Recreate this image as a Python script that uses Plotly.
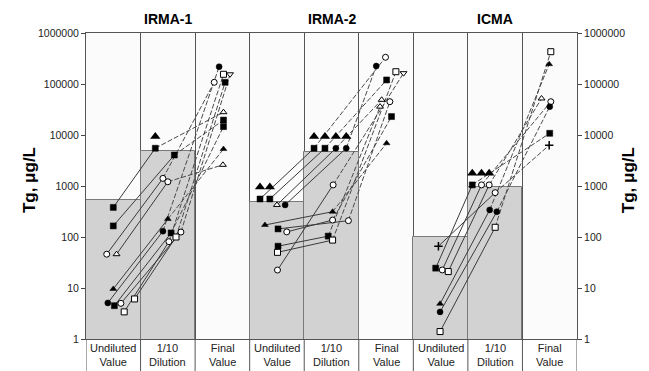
import plotly.graph_objects as go

# ---------------- data ----------------
panels = ["IRMA-1", "IRMA-2", "ICMA"]
stages = ["Undiluted<br>Value", "1/10<br>Dilution", "Final<br>Value"]
y_ticks = [1, 10, 100, 1000, 10000, 100000, 1000000]
y_tick_labels = ["1", "10", "100", "1000", "10000", "100000", "1000000"]

# IRMA-1 (Tg, ug/L)
irma1_undiluted = [380, 165, 46, 46, 9.6, 5.1, 4.5, 5.0, 3.4, 6.1]
irma1_dilution = [5500, 4050, 1410, 1210, 225, 130, 120, 125, 81, 100]
irma1_final = [28000, 19600, 108000, 2600, 5300, 218000, 14600, 155000, 155000, 108000]
irma1_median = [520, 4800]
irma1_arrow_dilution = [9300]

# IRMA-2
irma2_undiluted = [556, 556, 425, 425, 172, 144, 126, 66, 50, 22.5]
irma2_dilution = [5500, 5500, 5500, 5500, 313, 209, 215, 104, 87, 1050]
irma2_final = [334000, 120000, 49000, 225000, 6900, 45000, 23000, 36000, 174000, 163000]
irma2_median = [490, 4600]
irma2_arrow_undiluted = [955, 955]
irma2_arrow_dilution = [9300, 9300, 9300, 9300]

# ICMA
icma_undiluted = [24.5, 22.6, 21, 66, 4.9, 3.4, 1.4]
icma_dilution = [1050, 1050, 1050, 740, 340, 313, 155]
icma_final = [10800, 45000, 52000, 6300, 245000, 36000, 430000]
icma_median = [98, 950]
icma_arrow_dilution = [1770, 1770, 1770]

# ---------------- layout helpers (jitter within a column, 0..1) ----------------
irma1_jit = dict(
    u=[.50, .50, .38, .56, .50, .40, .52, .64, .70, .89],
    d=[.27, .62, .41, .50, .50, .41, .56, .74, .52, .65],
    f=[.52, .52, .35, .51, .52, .44, .52, .64, .52, .55],
    au=[], ad=[.27])
irma2_jit = dict(
    u=[.19, .37, .50, .65, .28, .52, .68, .52, .51, .51],
    d=[.18, .38, .58, .77, .52, .81, .52, .44, .52, .53],
    f=[.49, .51, .42, .32, .51, .57, .60, .39, .68, .82],
    au=[.19, .37], ad=[.18, .38, .58, .77])
icma_jit = dict(
    u=[.41, .53, .64, .46, .49, .49, .49],
    d=[.08, .25, .39, .50, .40, .53, .50],
    f=[.50, .52, .35, .49, .49, .50, .52],
    au=[], ad=[.08, .25, .39])

irma1_sym = dict(
    u=["square", "square", "circle-open", "triangle-up-open", "triangle-up", "circle", "square", "circle-open", "square-open", "square-open"],
    d=["square", "square", "circle-open", "circle-open", "triangle-up", "circle", "square", "circle-open", "circle-open", "square-open"],
    f=["triangle-up-open", "square", "circle-open", "triangle-up-open", "triangle-up", "circle", "square", "triangle-down-open", "square-open", "square"])
irma2_sym = dict(
    u=["square", "square", "triangle-up-open", "circle", "triangle-up", "square", "circle-open", "square", "square-open", "circle-open"],
    d=["square", "square", "circle", "circle", "triangle-up", "circle-open", "circle-open", "square", "square-open", "circle-open"],
    f=["circle-open", "square", "triangle-up-open", "circle", "triangle-up", "circle-open", "square", "triangle-up-open", "square-open", "triangle-down-open"])
icma_sym = dict(
    u=["square", "circle-open", "square-open", "cross-thin", "triangle-up", "circle", "square-open"],
    d=["square", "circle-open", "circle-open", "circle-open", "circle", "circle", "square-open"],
    f=["square", "circle-open", "triangle-up-open", "cross-thin", "triangle-up", "circle", "square-open"])

panel_data = [
    (irma1_undiluted, irma1_dilution, irma1_final, irma1_median, [], irma1_arrow_dilution, irma1_jit, irma1_sym),
    (irma2_undiluted, irma2_dilution, irma2_final, irma2_median, irma2_arrow_undiluted, irma2_arrow_dilution, irma2_jit, irma2_sym),
    (icma_undiluted, icma_dilution, icma_final, icma_median, [], icma_arrow_dilution, icma_jit, icma_sym),
]

fig = go.Figure()


def marker_style(symbols, size):
    syms, fills, lcols, lw = [], [], [], []
    for s in symbols:
        if s == "cross-thin":
            syms.append("cross-thin"); fills.append("black"); lcols.append("black"); lw.append(1.5)
        elif s.endswith("-open"):
            syms.append(s.replace("-open", "")); fills.append("white"); lcols.append("black"); lw.append(1)
        else:
            syms.append(s); fills.append("black"); lcols.append("black"); lw.append(0.5)
    return dict(symbol=syms, color=fills, size=size, line=dict(color=lcols, width=lw))


for p, (u, d, f, med, au, ad, jit, sym) in enumerate(panel_data):
    c0 = 3 * p
    # median bars
    fig.add_trace(go.Bar(x=[c0 + 0.5, c0 + 1.5], y=med, width=[1, 1],
                         marker=dict(color="#d2d2d2", line=dict(color="#7a7a7a", width=1)),
                         showlegend=False, hoverinfo="skip"))
    for i in range(len(u)):
        xu = c0 + jit["u"][i]
        xd = c0 + 1 + jit["d"][i]
        xf = c0 + 2 + jit["f"][i]
        fig.add_trace(go.Scatter(x=[xu, xd], y=[u[i], d[i]], mode="lines",
                                 line=dict(color="#3a3a3a", width=1),
                                 showlegend=False, hoverinfo="skip"))
        fig.add_trace(go.Scatter(x=[xd, xf], y=[d[i], f[i]], mode="lines",
                                 line=dict(color="#4a4a4a", width=1, dash="5px,2px"),
                                 showlegend=False, hoverinfo="skip"))
    for key, vals, off in (("u", u, 0), ("d", d, 1), ("f", f, 2)):
        fig.add_trace(go.Scatter(x=[c0 + off + j for j in jit[key]], y=vals, mode="markers",
                                 marker=marker_style(sym[key], 6), showlegend=False))
    # arrow markers (values above range)
    if au:
        fig.add_trace(go.Scatter(x=[c0 + j for j in jit["au"]], y=au, mode="markers",
                                 marker=dict(symbol="triangle-up", color="black", size=9),
                                 showlegend=False))
    if ad:
        fig.add_trace(go.Scatter(x=[c0 + 1 + j for j in jit["ad"]], y=ad, mode="markers",
                                 marker=dict(symbol="triangle-up", color="black", size=9),
                                 showlegend=False))

# invisible trace to carry the right-hand axis
fig.add_trace(go.Scatter(x=[0.5], y=[1], yaxis="y2", mode="markers",
                         marker=dict(opacity=0), showlegend=False, hoverinfo="skip"))

font_main = "Liberation Sans, Arial, sans-serif"

annotations = []
for p, name in enumerate(panels):
    annotations.append(dict(x=3 * p + 1.5, y=1.045, xref="x", yref="paper", text="<b>%s</b>" % name,
                            showarrow=False, font=dict(size=14, color="black"), yanchor="middle"))
    for s, lab in enumerate(stages):
        annotations.append(dict(x=3 * p + s + 0.5, y=-0.053, xref="x", yref="paper", text=lab,
                                showarrow=False, font=dict(size=11, color="#222"), yanchor="middle"))
annotations.append(dict(x=-0.137, y=0.52, xref="paper", yref="paper", text="<b>Tg, μg/L</b>",
                        textangle=-90, showarrow=False, font=dict(size=17, color="black")))
annotations.append(dict(x=1.13, y=0.52, xref="paper", yref="paper", text="<b>Tg, μg/L</b>",
                        textangle=-90, showarrow=False, font=dict(size=17, color="black")))

shapes = []
for b in range(10):
    shapes.append(dict(type="line", xref="x", yref="paper", x0=b, x1=b, y0=-0.11, y1=0,
                       line=dict(color="#555", width=1)))

# the page body has an 8px default margin, so the figure is sized/offset to compensate
fig.update_layout(
    width=641, height=363,
    margin=dict(l=78, r=72, t=25, b=32),
    paper_bgcolor="white", plot_bgcolor="#fbfbfb",
    font=dict(family=font_main, color="black"),
    bargap=0, barmode="overlay",
    xaxis=dict(range=[0, 9], tickvals=list(range(10)), showticklabels=False, ticks="",
               showgrid=True, gridcolor="#555", gridwidth=1, zeroline=False,
               showline=True, linecolor="#555", linewidth=1, mirror=True),
    yaxis=dict(type="log", range=[0, 6], tickvals=y_ticks, ticktext=y_tick_labels,
               ticks="outside", ticklen=4, tickcolor="#444", showgrid=False,
               showline=True, linecolor="#555", linewidth=1,
               tickfont=dict(size=10.5, color="#222")),
    yaxis2=dict(type="log", range=[0, 6], tickvals=y_ticks, ticktext=y_tick_labels,
                overlaying="y", side="right", ticks="outside", ticklen=4, tickcolor="#444",
                showgrid=False, showline=True, linecolor="#555", linewidth=1,
                tickfont=dict(size=10.5, color="#222")),
    annotations=annotations, shapes=shapes,
)

fig.write_html("out.html")
